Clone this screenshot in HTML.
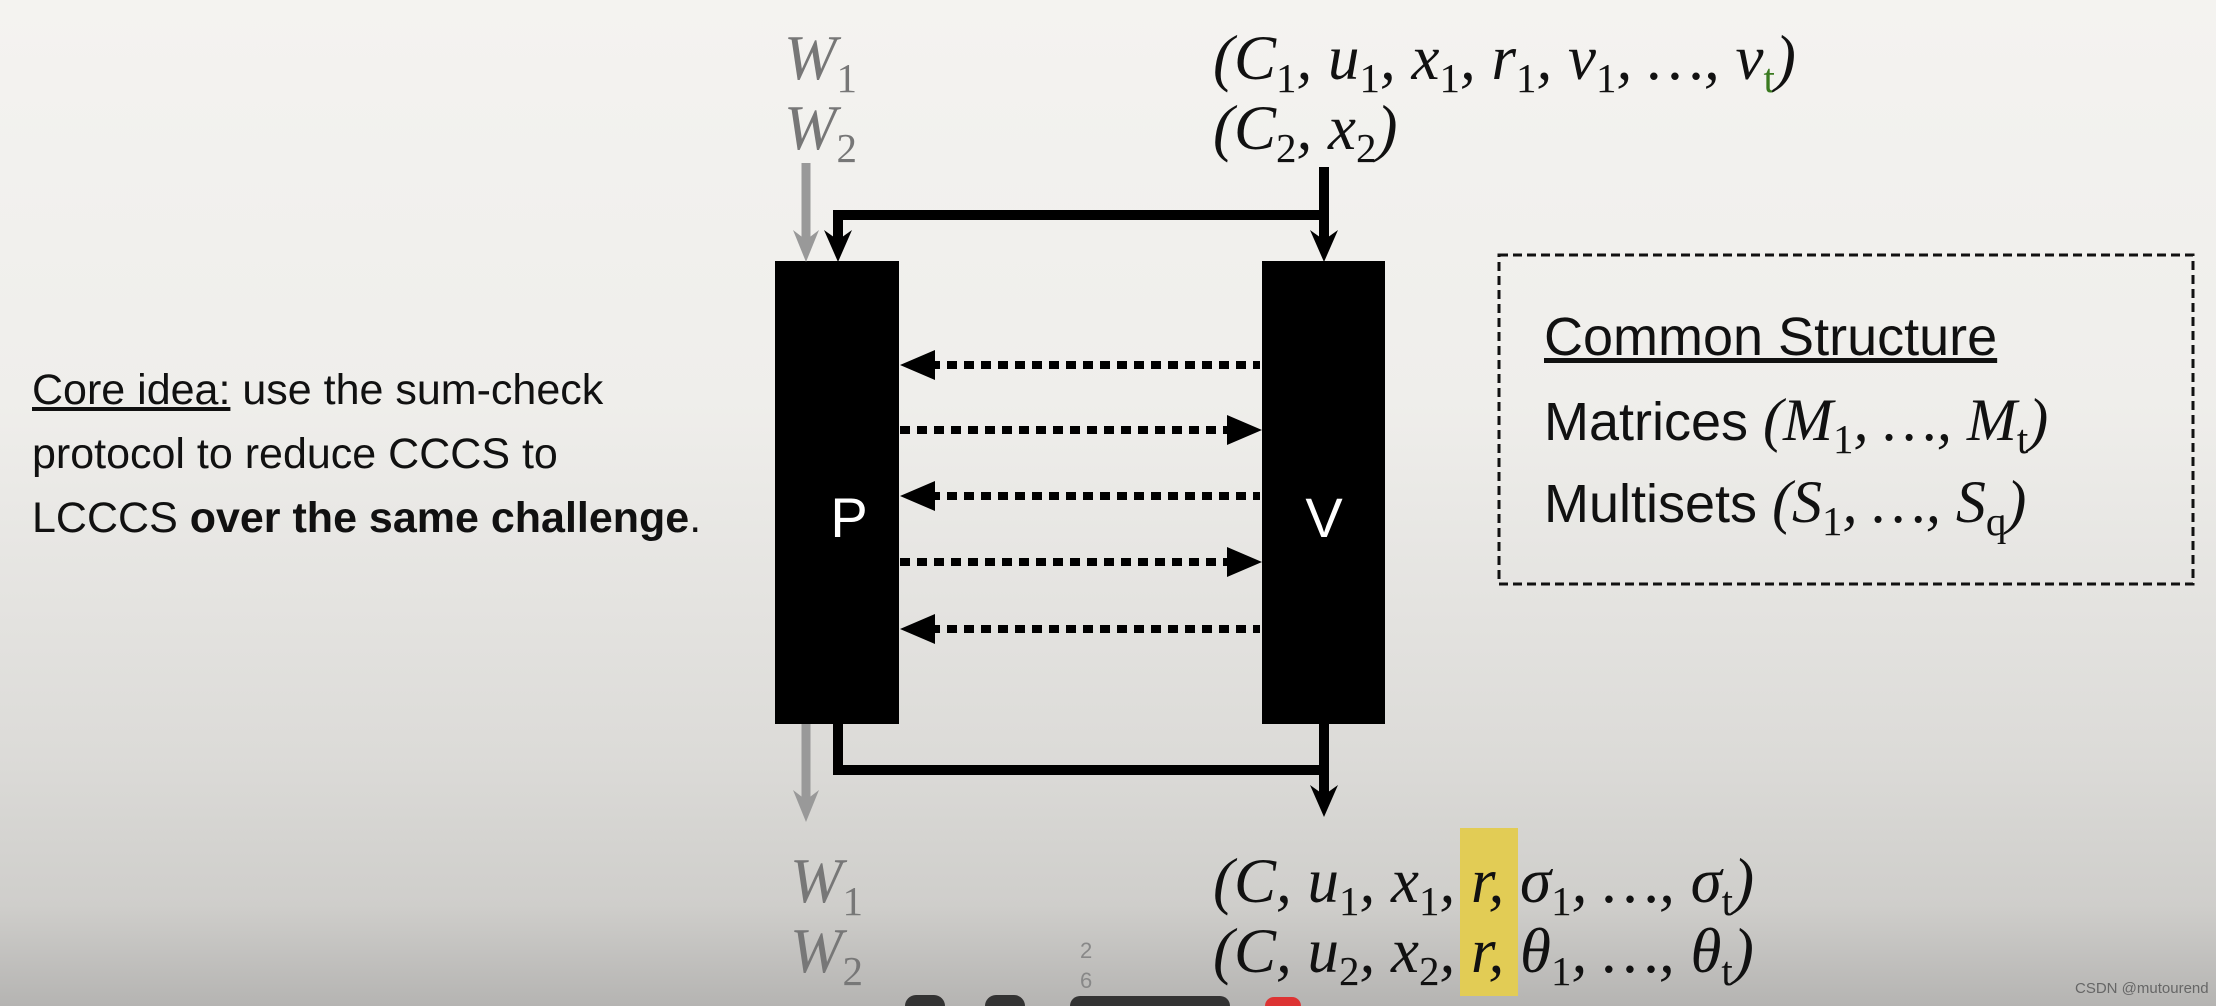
<!DOCTYPE html>
<html><head><meta charset="utf-8"><style>
html,body{margin:0;padding:0;width:2216px;height:1006px;overflow:hidden}
body{position:relative;font-family:"Liberation Sans",sans-serif;
background:linear-gradient(#f4f3f0 0%,#efeeeb 40%,#dcdbd8 75%,#cfcecb 90%,#b5b4b2 100%);}
.t{position:absolute;white-space:nowrap}
.m{font-family:"Liberation Serif",serif;font-style:italic;font-size:63px;color:#111}
.m sub{font-style:normal;font-size:41px;vertical-align:-13px;line-height:0}
.g{color:#777}
.s{font-size:43px;color:#111;line-height:64px}
.cs{font-size:54px;color:#111}
</style></head><body>
<div class="t" style="left:1460px;top:828px;width:58px;height:168px;background:#e2cc55"></div>
<svg class="t" style="left:0;top:0" width="2216" height="1006">
<rect x="775" y="261" width="124" height="463" fill="#000"/>
<rect x="1262" y="261" width="123" height="463" fill="#000"/>
<line x1="806" y1="163" x2="806" y2="240" stroke="#999" stroke-width="9"/>
<path d="M793,230 L806,262 L819,230 L806,240z" fill="#999"/>
<line x1="806" y1="724" x2="806" y2="800" stroke="#999" stroke-width="9"/>
<path d="M793,790 L806,822 L819,790 L806,800z" fill="#999"/>
<polyline points="1324,167 1324,215 838,215 838,240" fill="none" stroke="#000" stroke-width="10"/>
<line x1="1324" y1="215" x2="1324" y2="240" stroke="#000" stroke-width="10"/>
<path d="M824,230 L838,262 L852,230 L838,240z" fill="#000"/>
<path d="M1310,230 L1324,262 L1338,230 L1324,240z" fill="#000"/>
<polyline points="838,724 838,770 1324,770" fill="none" stroke="#000" stroke-width="10"/>
<line x1="1324" y1="724" x2="1324" y2="795" stroke="#000" stroke-width="10"/>
<path d="M1310,785 L1324,817 L1338,785 L1324,795z" fill="#000"/>
<g stroke="#000" stroke-width="8" stroke-dasharray="10,7">
<line x1="930" y1="365" x2="1260" y2="365"/>
<line x1="900" y1="430" x2="1230" y2="430"/>
<line x1="930" y1="496" x2="1260" y2="496"/>
<line x1="900" y1="562" x2="1230" y2="562"/>
<line x1="930" y1="629" x2="1260" y2="629"/>
</g>
<path d="M900,365 L935,350 L935,380z" fill="#000"/>
<path d="M1262,430 L1227,415 L1227,445z" fill="#000"/>
<path d="M900,496 L935,481 L935,511z" fill="#000"/>
<path d="M1262,562 L1227,547 L1227,577z" fill="#000"/>
<path d="M900,629 L935,614 L935,644z" fill="#000"/>
<rect x="1499" y="255" width="694" height="329" fill="none" stroke="#111" stroke-width="3" stroke-dasharray="9,5"/>
<text x="849" y="537" fill="#fff" font-family="Liberation Sans" font-size="56" text-anchor="middle">P</text>
<text x="1324" y="537" fill="#fff" font-family="Liberation Sans" font-size="56" text-anchor="middle">V</text>
</svg>
<div class="t m g" style="left:784px;top:22px">W<sub>1</sub></div>
<div class="t m g" style="left:784px;top:92px">W<sub>2</sub></div>
<div class="t m" style="left:1213px;top:22px">(C<sub>1</sub>, u<sub>1</sub>, x<sub>1</sub>, r<sub>1</sub>, v<sub>1</sub>, …, v<sub style="color:#3a7a20">t</sub>)</div>
<div class="t m" style="left:1213px;top:92px">(C<sub>2</sub>, x<sub>2</sub>)</div>
<div class="t m g" style="left:790px;top:845px">W<sub>1</sub></div>
<div class="t m g" style="left:790px;top:915px">W<sub>2</sub></div>
<div class="t m" style="left:1213px;top:845px">(C, u<sub>1</sub>, x<sub>1</sub>, r, σ<sub>1</sub>, …, σ<sub>t</sub>)</div>
<div class="t m" style="left:1213px;top:915px">(C, u<sub>2</sub>, x<sub>2</sub>, r, θ<sub>1</sub>, …, θ<sub>t</sub>)</div>
<div class="t s" style="left:32px;top:358px"><span style="text-decoration:underline">Core idea:</span> use the sum-check<br>protocol to reduce CCCS to<br>LCCCS <b>over the same challenge</b>.</div>
<div class="t cs" style="left:1544px;top:306px;text-decoration:underline">Common Structure</div>
<div class="t cs" style="left:1544px;top:386px">Matrices <span class="m" style="font-size:60px">(M<sub>1</sub>, …, M<sub>t</sub>)</span></div>
<div class="t cs" style="left:1544px;top:468px">Multisets <span class="m" style="font-size:60px">(S<sub>1</sub>, …, S<sub>q</sub>)</span></div>
<div class="t" style="left:1080px;top:936px;font-size:22px;color:#888;line-height:30px">2<br>6</div>
<div class="t" style="left:2075px;top:980px;font-size:15px;color:#666">CSDN @mutourend</div>
<div class="t" style="left:905px;top:995px;width:40px;height:11px;border-radius:20px 20px 0 0;background:#333"></div>
<div class="t" style="left:985px;top:995px;width:40px;height:11px;border-radius:20px 20px 0 0;background:#333"></div>
<div class="t" style="left:1070px;top:996px;width:160px;height:10px;border-radius:14px 14px 0 0;background:#333"></div>
<div class="t" style="left:1265px;top:997px;width:36px;height:9px;border-radius:18px 18px 0 0;background:#d33"></div>
</body></html>
